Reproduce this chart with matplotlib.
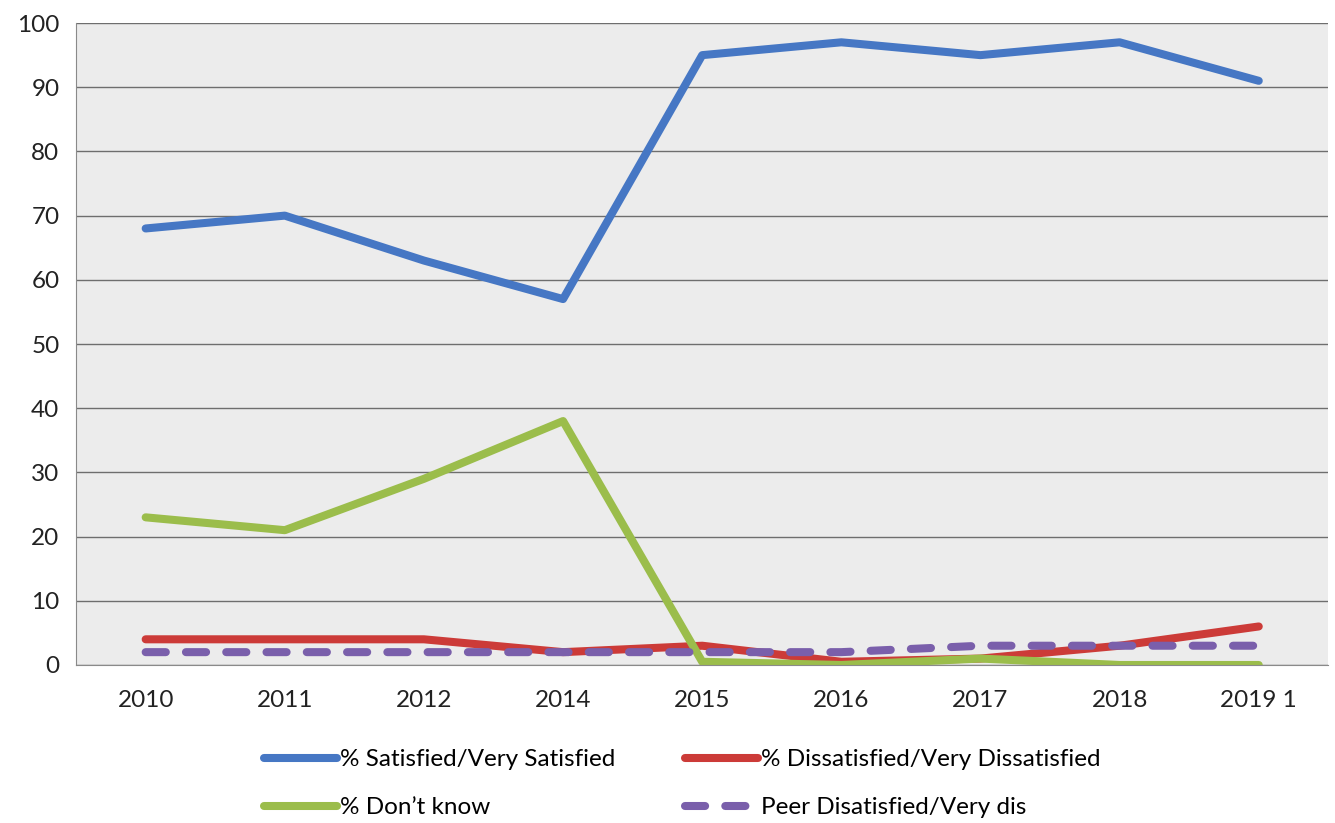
import matplotlib.pyplot as plt
import numpy as np

years = ["2010", "2011", "2012", "2014", "2015", "2016", "2017", "2018", "2019 1"]

satisfied = [68, 70, 63, 57, 95, 97, 95, 97, 91]
dissatisfied = [4, 4, 4, 2, 3, 0.5, 1, 3, 6]
dont_know = [23, 21, 29, 38, 0.5, 0, 1, 0, 0]
peer_dissatisfied = [2, 2, 2, 2, 2, 2, 3, 3, 3]

plt.rcParams['font.family'] = ['Lato', 'DejaVu Sans']

fig = plt.figure(figsize=(13.35, 8.23), dpi=100)
ax = fig.add_axes([0.057, 0.192, 0.938, 0.780])
ax.set_facecolor('#ececec')

lw = 5.8
x = np.arange(len(years))
l_sat, = ax.plot(x, satisfied, color='#4677c4', lw=lw, solid_capstyle='round',
                 label='% Satisfied/Very Satisfied')
l_dis, = ax.plot(x, dissatisfied, color='#cc3b38', lw=lw, solid_capstyle='round',
                 label='% Dissatisfied/Very Dissatisfied')
l_dk, = ax.plot(x, dont_know, color='#9bbd4b', lw=lw, solid_capstyle='round',
                label='% Don\u2019t know')
l_peer, = ax.plot(x, peer_dissatisfied, color='#7a5fab', lw=lw,
                  dash_capstyle='round', linestyle=(0, (2.5, 2.5)),
                  label='Peer Disatisfied/Very dis')

ax.set_xlim(-0.5, len(years) - 0.5)
ax.set_ylim(0, 100)
ax.set_yticks(range(0, 101, 10))
ax.set_xticks(x)
ax.set_xticklabels(years)
ax.tick_params(length=0, labelsize=17.5, colors='#222222')
ax.tick_params(axis='x', pad=18)
ax.tick_params(axis='y', pad=12)
ax.yaxis.grid(True, color='#6e6e6e', lw=1)
ax.set_axisbelow(True)
for side in ['top', 'right']:
    ax.spines[side].set_visible(False)
for side in ['left', 'bottom']:
    ax.spines[side].set_color('#8a8a8a')

# legend reads row by row: satisfied, dissatisfied / don't know, peer
handles = [l_sat, l_dk, l_dis, l_peer]
fig.legend(handles, [h.get_label() for h in handles], ncol=2, loc='upper left',
           bbox_to_anchor=(0.183, 0.113), frameon=False, fontsize=17.5,
           handlelength=3.0, handletextpad=0.12, columnspacing=2.9,
           labelspacing=1.1, borderpad=0.3)

fig.savefig('out.png', dpi=100)
